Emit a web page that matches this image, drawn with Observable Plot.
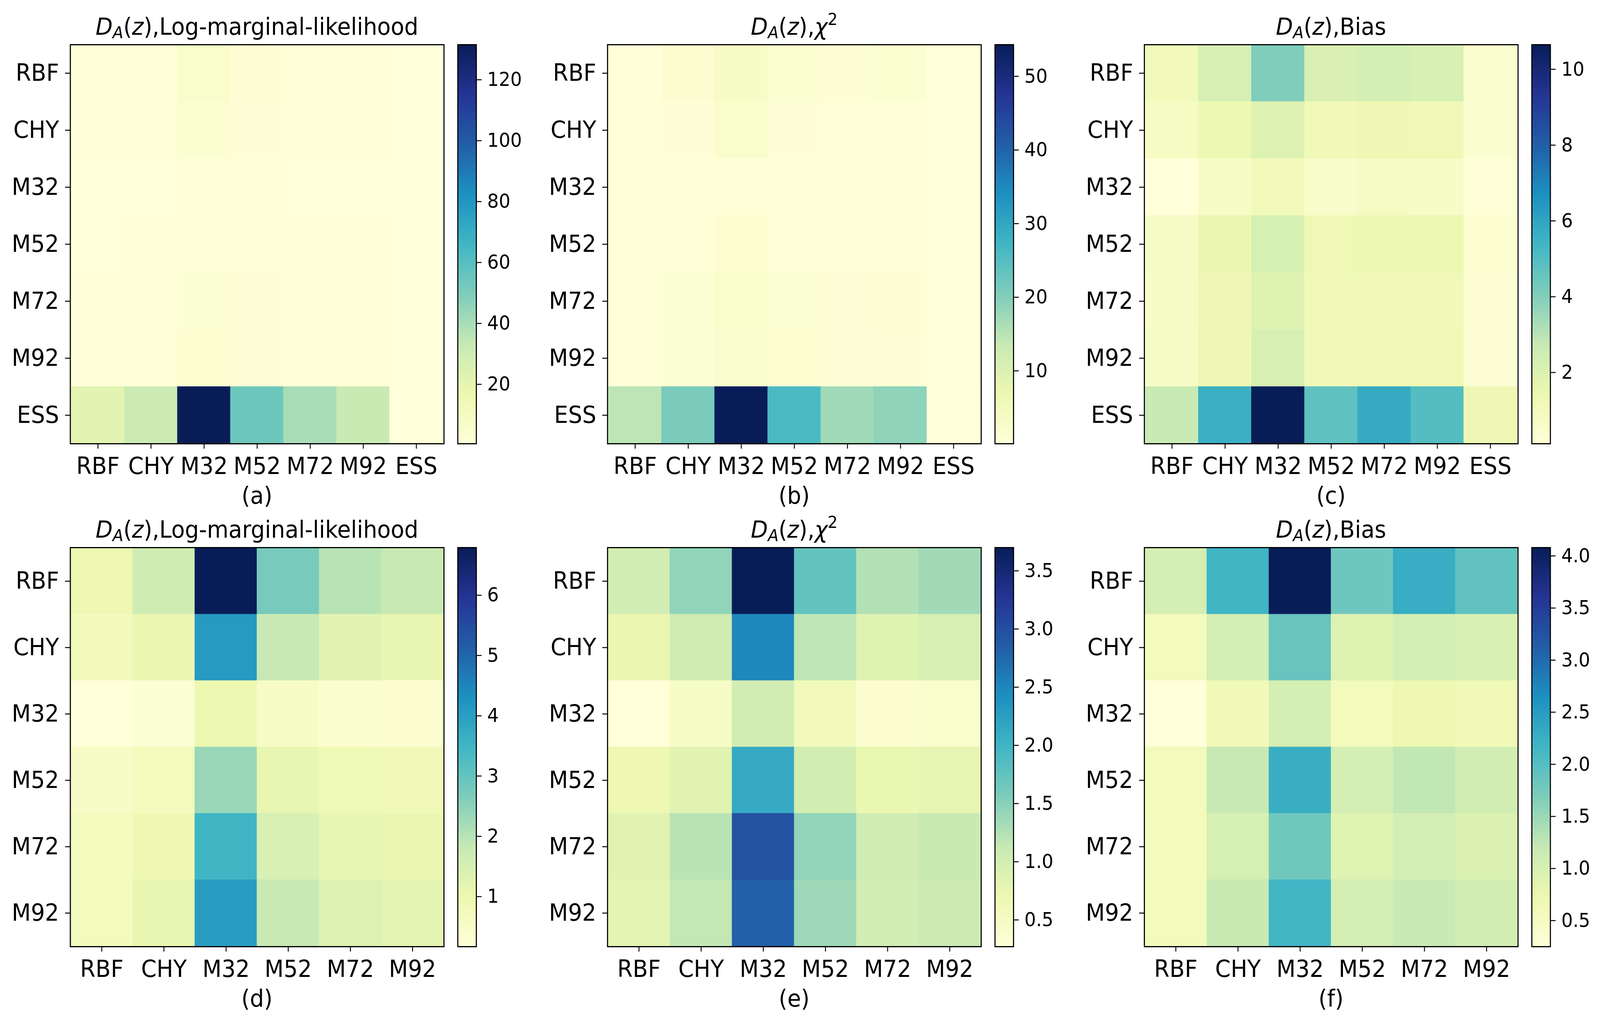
<!DOCTYPE html>
<html><head><meta charset="utf-8">
<script src="https://cdn.jsdelivr.net/npm/d3@7"></script>
<script src="https://cdn.jsdelivr.net/npm/@observablehq/plot@0.6"></script>
<style>
html,body{margin:0;padding:0;background:#fff;overflow:hidden;}
#root{position:relative;width:4402px;height:2620px;overflow:hidden;font-family:"DejaVu Sans";background:#fff;transform-origin:0 0;}
#root > svg{position:absolute;max-width:none;}
</style></head><body><div id="root"></div>
<script>
// ---------- data ----------
const kernels7 = ["RBF","CHY","M32","M52","M72","M92","ESS"];
const kernels6 = ["RBF","CHY","M32","M52","M72","M92"];

const valuesA = [
  [1.2, 1.5, 5.8, 2.5, 1.5, 1.3, 0.7],
  [1.0, 1.2, 4.0, 1.8, 1.5, 1.3, 0.6],
  [0.8, 0.9, 1.2, 1.0, 0.9, 0.8, 0.5],
  [0.9, 1.1, 1.6, 1.2, 1.0, 1.0, 0.6],
  [1.0, 1.3, 3.0, 2.0, 1.4, 1.2, 0.6],
  [1.0, 1.2, 3.2, 1.9, 1.3, 1.2, 0.6],
  [21, 31, 131.5, 54, 40, 32, 0.5]
];
const valuesB = [
  [0.3, 1.7, 3.2, 1.5, 1.0, 1.5, 0.2],
  [0.4, 0.6, 2.4, 0.8, 0.5, 0.5, 0.2],
  [0.3, 0.3, 0.4, 0.4, 0.4, 0.4, 0.2],
  [0.3, 0.4, 1.4, 0.5, 0.5, 0.5, 0.2],
  [0.5, 1.2, 2.4, 1.2, 0.7, 0.9, 0.2],
  [0.5, 1.1, 2.2, 1.3, 0.8, 0.8, 0.2],
  [14.6, 21, 54.3, 26, 17.3, 19, 0.1]
];
const valuesC = [
  [1.1, 2.2, 4.05, 2.1, 2.3, 2.15, 0.5],
  [0.8, 1.4, 2.0, 1.2, 1.35, 1.3, 0.45],
  [0.12, 0.7, 1.1, 0.6, 0.8, 0.75, 0.2],
  [0.75, 1.5, 2.25, 1.3, 1.45, 1.4, 0.35],
  [0.7, 1.35, 1.95, 1.2, 1.3, 1.2, 0.3],
  [0.75, 1.35, 2.2, 1.2, 1.3, 1.3, 0.3],
  [2.7, 5.6, 10.65, 4.75, 5.8, 5.0, 1.35]
];
const valuesD = [
  [0.97, 1.65, 6.79, 2.75, 2.0, 1.8],
  [0.8, 1.05, 4.1, 1.8, 1.25, 1.1],
  [0.17, 0.3, 1.0, 0.55, 0.4, 0.35],
  [0.55, 0.75, 2.35, 1.1, 0.9, 0.85],
  [0.7, 0.95, 3.5, 1.45, 1.1, 1.05],
  [0.75, 1.1, 4.05, 1.8, 1.35, 1.2]
];
const valuesE = [
  [1.0, 1.45, 3.70, 1.75, 1.25, 1.35],
  [0.72, 1.03, 2.5, 1.18, 0.87, 0.95],
  [0.27, 0.48, 1.02, 0.6, 0.37, 0.42],
  [0.68, 0.85, 2.12, 0.99, 0.73, 0.78],
  [0.85, 1.2, 2.97, 1.45, 1.03, 1.09],
  [0.8, 1.15, 2.82, 1.38, 1.0, 1.07]
];
const valuesF = [
  [1.05, 2.18, 4.08, 1.82, 2.28, 1.92],
  [0.6, 1.05, 1.87, 0.92, 1.05, 0.98],
  [0.25, 0.65, 1.05, 0.6, 0.7, 0.66],
  [0.6, 1.2, 2.27, 1.05, 1.25, 1.08],
  [0.58, 1.02, 1.8, 0.9, 1.05, 0.95],
  [0.6, 1.17, 2.17, 1.05, 1.18, 1.07]
];

const ticksA = [20, 40, 60, 80, 100, 120];
const ticksB = [10, 20, 30, 40, 50];
const ticksC = [2, 4, 6, 8, 10];
const ticksD = [1, 2, 3, 4, 5, 6];
const ticksE = [0.5, 1.0, 1.5, 2.0, 2.5, 3.0, 3.5];
const ticksF = [0.5, 1.0, 1.5, 2.0, 2.5, 3.0, 3.5, 4.0];

const panelLabels = ["(a)", "(b)", "(c)", "(d)", "(e)", "(f)"];
const metricNames = ["Log-marginal-likelihood", "chi2", "Bias"];

// matplotlib YlGnBu (ColorBrewer 9, linear segments)
const ylgnbu = ["#ffffd9","#edf8b1","#c7e9b4","#7fcdbb","#41b6c4","#1d91c0","#225ea8","#253494","#081d58"];
const interp = d3.piecewise(d3.interpolateRgb, ylgnbu);

// ---------- layout (in reference pixels; fitted to the window) ----------
const FULLW = 4402, FULLH = 2620;
const AW = 1028, AH = 1022, CW = 51, CGAP = 38;
const colLeft = [193, 1671, 3148];
const rowTop = [114, 1402];
const ML = 190, MR = 4, MT = 4, MB = 110;

const panels = [
  {m: valuesA, cats: kernels7, ticks: ticksA, fmt: d3.format("d"),  metric: 0, c: 0, r: 0},
  {m: valuesB, cats: kernels7, ticks: ticksB, fmt: d3.format("d"),  metric: 1, c: 1, r: 0},
  {m: valuesC, cats: kernels7, ticks: ticksC, fmt: d3.format("d"),  metric: 2, c: 2, r: 0},
  {m: valuesD, cats: kernels6, ticks: ticksD, fmt: d3.format("d"),  metric: 0, c: 0, r: 1},
  {m: valuesE, cats: kernels6, ticks: ticksE, fmt: d3.format(".1f"), metric: 1, c: 1, r: 1},
  {m: valuesF, cats: kernels6, ticks: ticksF, fmt: d3.format(".1f"), metric: 2, c: 2, r: 1}
];

const root = document.getElementById("root");
const sx = Math.min(1, window.innerWidth / FULLW);
const sy = Math.min(1, window.innerHeight / FULLH);
root.style.transform = `scale(${sx}, ${sy})`;
const font = "DejaVu Sans";

panels.forEach((p, k) => {
  const data = [];
  p.cats.forEach((rw, i) => p.cats.forEach((cl, j) => data.push({row: rw, col: cl, value: p.m[i][j]})));
  const ext = d3.extent(data, d => d.value);
  const ax = colLeft[p.c], ay = rowTop[p.r];

  const hm = Plot.plot({
    width: ML + AW + MR, height: MT + AH + MB,
    marginLeft: ML, marginRight: MR, marginTop: MT, marginBottom: MB,
    style: {fontFamily: font, fontSize: "61px", color: "black", background: "transparent", maxWidth: "none"},
    x: {type: "band", domain: p.cats, padding: 0, label: null},
    y: {type: "band", domain: p.cats, padding: 0, label: null},
    color: {type: "linear", domain: ext, interpolate: interp},
    marks: [
      Plot.cell(data, {x: "col", y: "row", fill: "value", stroke: "value", strokeWidth: 1, inset: 0}),
      Plot.frame({stroke: "black", strokeWidth: 3}),
      Plot.axisX({tickSize: 13, tickPadding: 21, fontSize: 61, strokeWidth: 2.5, label: null}),
      Plot.axisY({tickSize: 14, tickPadding: 17, fontSize: 61, strokeWidth: 2.5, label: null})
    ]
  });
  hm.style.left = (ax - ML) + "px";
  hm.style.top = (ay - MT) + "px";
  root.appendChild(hm);

  const cb = Plot.plot({
    width: 4 + CW + 130, height: MT + AH + 4,
    marginLeft: 4, marginRight: 130, marginTop: MT, marginBottom: 4,
    style: {fontFamily: font, fontSize: "50px", color: "black", background: "transparent", maxWidth: "none"},
    x: {domain: [0, 1], axis: null},
    y: {domain: ext, axis: null},
    color: {type: "linear", domain: ext, interpolate: interp},
    marks: [
      Plot.raster({fill: (x, y) => y, x1: 0, x2: 1, y1: ext[0], y2: ext[1], pixelSize: 1}),
      Plot.frame({stroke: "black", strokeWidth: 3}),
      Plot.axisY({anchor: "right", ticks: p.ticks, tickFormat: p.fmt, tickSize: 14, tickPadding: 16, fontSize: 50, strokeWidth: 2.5, label: null})
    ]
  });
  cb.style.left = (ax + AW + CGAP - 4) + "px";
  cb.style.top = (ay - MT) + "px";
  root.appendChild(cb);
  p.ax = ax; p.ay = ay;
});

// ---------- titles & panel labels ----------
const ov = d3.create("svg").attr("width", FULLW).attr("height", FULLH)
  .style("left", "0px").style("top", "0px")
  .attr("font-family", font).attr("font-size", 61).attr("fill", "black");

panels.forEach((p, k) => {
  const cx = p.ax + AW / 2;
  const t = ov.append("text").attr("x", cx).attr("y", p.ay - 25).attr("text-anchor", "middle");
  t.append("tspan").attr("font-style", "italic").text("D");
  t.append("tspan").attr("font-style", "italic").attr("font-size", 43).attr("dy", 9).text("A");
  t.append("tspan").attr("dy", -9).text("(");
  t.append("tspan").attr("font-style", "italic").text("z");
  t.append("tspan").text("),");
  const name = metricNames[p.metric];
  if (name === "chi2") {
    t.append("tspan").attr("font-style", "italic").text("χ");
    t.append("tspan").attr("font-size", 43).attr("dy", -25).text("2");
  } else {
    t.append("tspan").text(name);
  }
  ov.append("text").attr("x", cx).attr("y", p.ay + AH + 154).attr("text-anchor", "middle").text(panelLabels[k]);
});
root.appendChild(ov.node());
</script></body></html>
